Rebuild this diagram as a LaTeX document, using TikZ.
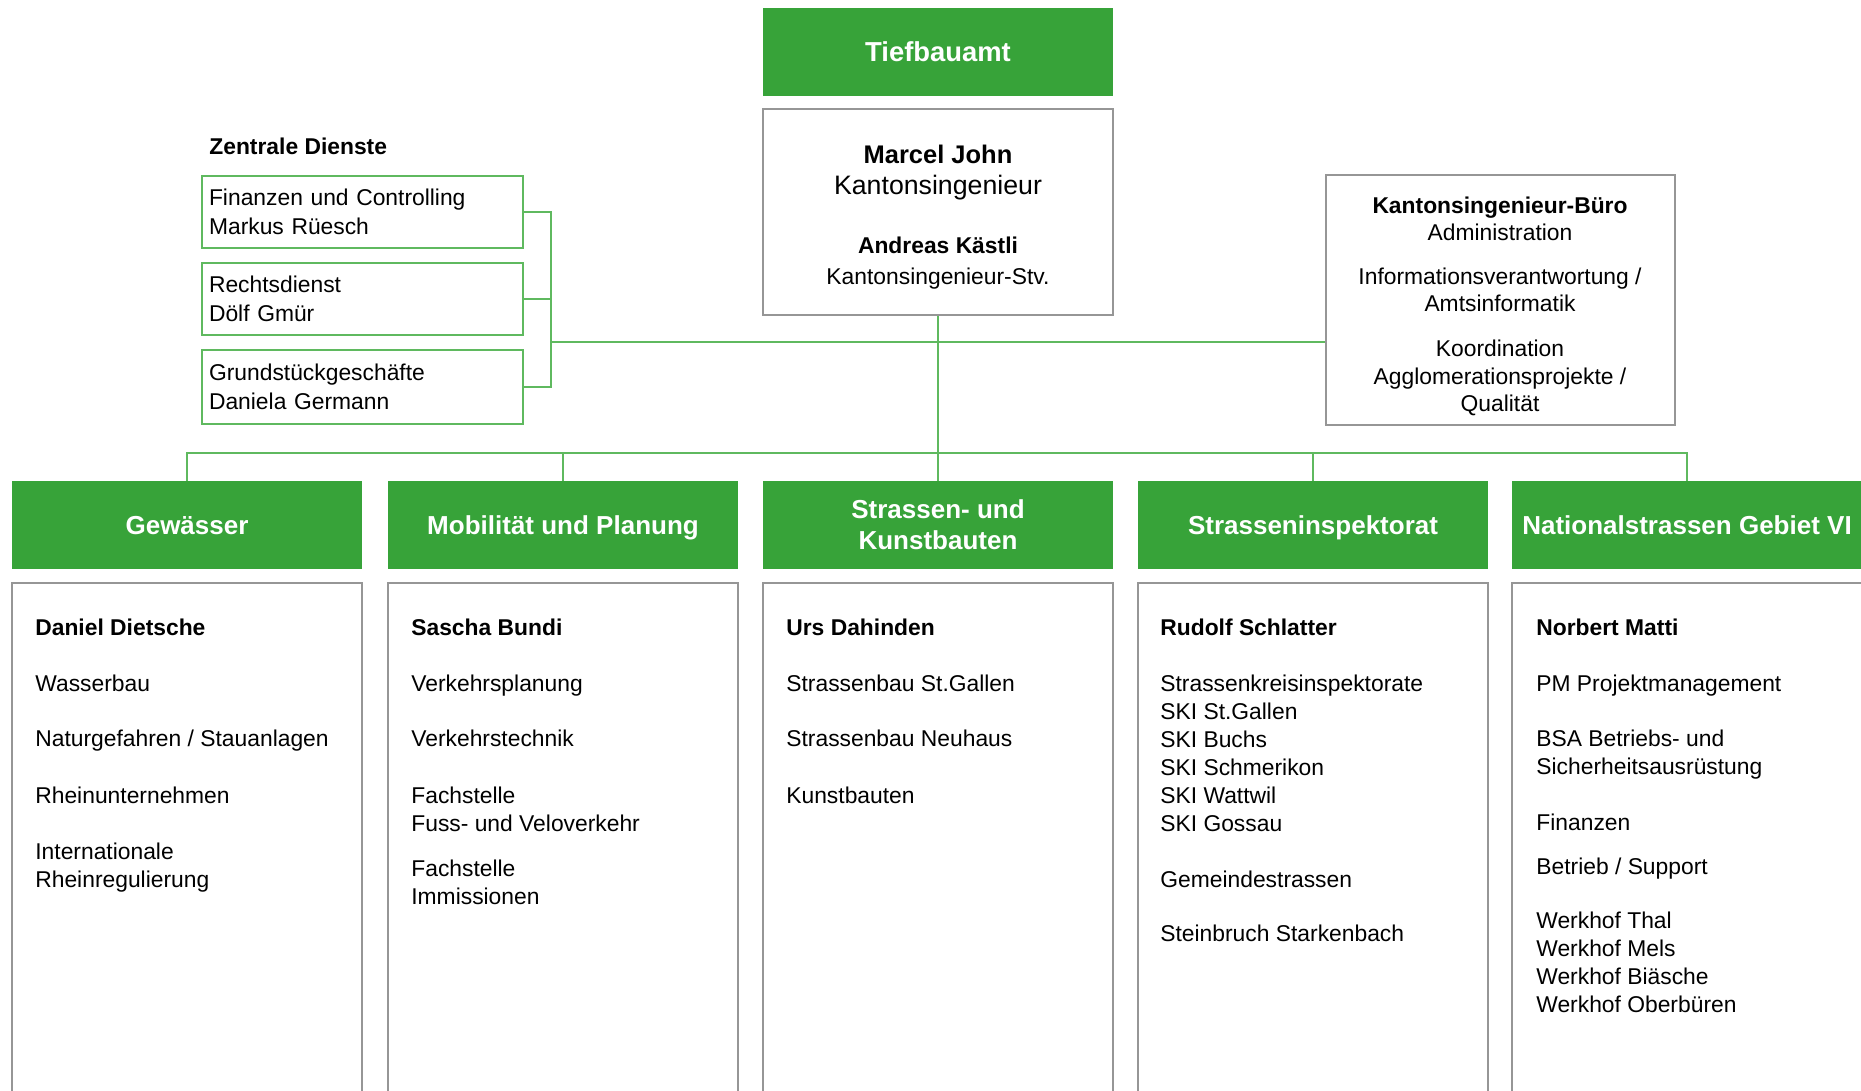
\documentclass[tikz,border=0pt]{standalone}
\usepackage{fontspec}
\setmainfont{Liberation Sans}
\usepackage{tikz}
\usetikzlibrary{positioning,calc}
\definecolor{amtgruen}{RGB}{55,163,57}
\definecolor{liniengruen}{RGB}{95,185,95}
\definecolor{rahmengrau}{RGB}{150,150,150}

\begin{document}
\begin{tikzpicture}[x=0.02cm,y=-0.02cm]
	\tikzstyle{kopf}=[rectangle, fill=amtgruen, text=white, inner sep=0pt, minimum width=7cm, minimum height=1.76cm, text depth=0pt, align=center, font=\bfseries\fontsize{14.8}{17.6}\selectfont]
	\tikzstyle{feld}=[rectangle, draw=rahmengrau, line width=1.1pt, inner sep=0pt, minimum width=7cm]
	\tikzstyle{dienst}=[rectangle, draw=liniengruen, line width=1.1pt, minimum width=6.42cm, minimum height=1.44cm, text width=6.14cm, inner xsep=0.14cm, inner ysep=0pt, align=left, font=\fontsize{13}{16.5}\selectfont]
	\tikzstyle{liste}=[anchor=north west, inner sep=0pt, align=left, font=\fontsize{13}{15.93}\selectfont]
	\tikzstyle{linie}=[draw=liniengruen, line width=1pt]
	\clip (0,0) rectangle (1861,1090);

	% Amtsleitung
	\node[kopf, font=\bfseries\fontsize{15.6}{18}\selectfont] (amt) at (938,52) {Tiefbauamt};
	\node[feld, minimum height=4.12cm] (ki) at (938,212) {};
	\node[anchor=north, inner sep=0pt, align=center, font=\fontsize{13}{17.6}\selectfont] (kitext) at (938,145)
		{{\bfseries\fontsize{14.5}{17.6}\selectfont Marcel John}\\ {\fontsize{15.2}{17.6}\selectfont Kantonsingenieur}\\[0.56cm]
		\textbf{Andreas Kästli}\\ Kantonsingenieur-Stv.};

	\node[feld, minimum width=6.98cm, minimum height=5cm] (buero) at (1500.5,300) {};
	\node[anchor=north, inner sep=0pt, align=center, font=\fontsize{13}{15.65}\selectfont] (buerotext) at (1500,196.5)
		{\textbf{Kantonsingenieur-Büro}\\ Administration\\[0.32cm] Informationsverantwortung /\\ Amtsinformatik\\[0.35cm]
		Koordination\\ Agglomerationsprojekte /\\ Qualität};

	% Zentrale Dienste
	\node[anchor=west, inner sep=0pt, font=\bfseries\fontsize{13}{15.9}\selectfont] (zd) at (209,146) {Zentrale Dienste};
	\node[dienst] (d1) at (362.5,212) {Finanzen und Controlling\\ Markus Rüesch};
	\node[dienst] (d2) at (362.5,299) {Rechtsdienst\\ Dölf Gmür};
	\node[dienst, minimum height=1.48cm] (d3) at (362.5,387) {Grundstückgeschäfte\\ Daniela Germann};

	% Abteilungen
	\node[kopf] (g1) at (187,525) {Gewässer};
	\node[kopf] (g2) at (563,525) {Mobilität und Planung};
	\node[kopf] (g3) at (938,525) {Strassen- und\\ Kunstbauten};
	\node[kopf] (g4) at (1313,525) {Strasseninspektorat};
	\node[kopf] (g5) at (1687,525) {Nationalstrassen Gebiet VI};

	\node[feld, minimum height=11cm] (f1) at (187,858) {};
	\node[feld, minimum height=11cm] (f2) at (563,858) {};
	\node[feld, minimum height=11cm] (f3) at (938,858) {};
	\node[feld, minimum height=11cm] (f4) at (1313,858) {};
	\node[feld, minimum height=11cm] (f5) at (1687,858) {};

	\node[liste] (t1) at (35,619) {\textbf{Daniel Dietsche}\\[0.55cm] Wasserbau\\[0.55cm] Naturgefahren / Stauanlagen\\[0.58cm]
		Rheinunternehmen\\[0.55cm] Internationale\\ Rheinregulierung};
	\node[liste] (t2) at (411,619) {\textbf{Sascha Bundi}\\[0.55cm] Verkehrsplanung\\[0.55cm] Verkehrstechnik\\[0.58cm]
		Fachstelle\\ Fuss- und Veloverkehr\\[0.34cm] Fachstelle\\ Immissionen};
	\node[liste] (t3) at (786,619) {\textbf{Urs Dahinden}\\[0.55cm] Strassenbau St.Gallen\\[0.55cm] Strassenbau Neuhaus\\[0.58cm]
		Kunstbauten};
	\node[liste] (t4) at (1160,619) {\textbf{Rudolf Schlatter}\\[0.55cm] Strassenkreisinspektorate\\ SKI St.Gallen\\ SKI Buchs\\
		SKI Schmerikon\\ SKI Wattwil\\ SKI Gossau\\[0.56cm] Gemeindestrassen\\[0.52cm] Steinbruch Starkenbach};
	\node[liste] (t5) at (1536,619) {\textbf{Norbert Matti}\\[0.55cm] PM Projektmanagement\\[0.55cm] BSA Betriebs- und\\
		Sicherheitsausrüstung\\[0.55cm] Finanzen\\[0.32cm] Betrieb / Support\\[0.52cm] Werkhof Thal\\ Werkhof Mels\\
		Werkhof Biäsche\\ Werkhof Oberbüren};

	% Verbindungen
	\coordinate (bus) at (938,453);
	\coordinate (klammer) at (551,299);
	\coordinate (quer) at (551,342);
	\draw[linie] (ki.south) -- (bus);
	\draw[linie] (g1.north) |- (bus) -| (g5.north);
	\foreach \g in {g2,g3,g4}
		\draw[linie] (\g.north) -- (\g.north |- bus);
	\draw[linie] (d1.east) -| (klammer) |- (d3.east);
	\draw[linie] (d2.east) -- (klammer);
	\draw[linie] (quer) -- (quer -| buero.west);
\end{tikzpicture}
\end{document}
